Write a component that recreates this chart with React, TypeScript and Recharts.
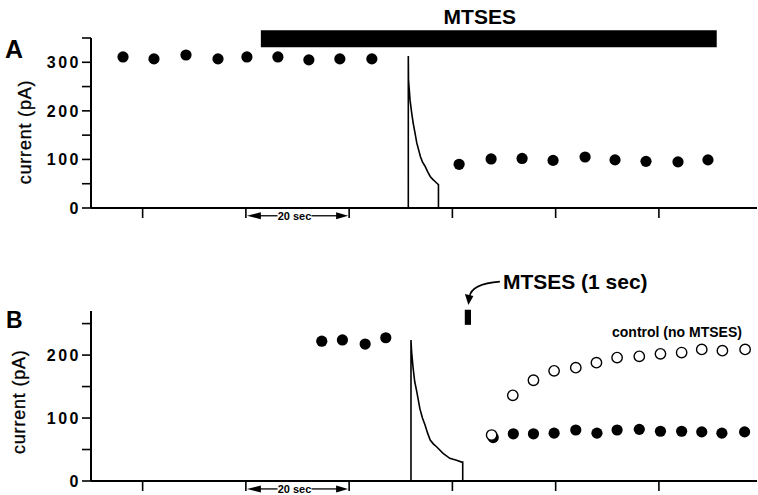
import { ComposedChart, Scatter, Line, XAxis, YAxis, ReferenceArea, ReferenceLine } from 'recharts';

const FONT = "'Liberation Sans', Arial, Helvetica, sans-serif";

// time axis (sec) shared by both panels
const xTicks = [10, 30, 50, 70, 90, 110];
const yTicksA = [0, 50, 100, 150, 200, 250, 300, 350];
const yTicksB = [0, 50, 100, 150, 200, 250];

// Panel A: before / after continuous MTSES
const preA_t = [6.2, 12.2, 18.4, 24.6, 30.2, 36.2, 42.2, 48.2, 54.4];
const preA_i = [311, 307, 315, 307, 311, 311, 305, 307, 307];
const postA_t = [71.3, 77.5, 83.5, 89.5, 95.7, 101.5, 107.5, 113.7, 119.5];
const postA_i = [90, 101, 102, 98, 105, 99, 96, 95, 99];
const traceA_t = [61.46, 61.46, 61.5, 61.8, 62.1, 62.4, 62.8, 63.1, 63.8, 64.2, 64.7, 65.2, 65.7, 66.2, 66.6, 67.1, 67.3, 67.3];
const traceA_i = [0, 313, 264, 222, 197, 175, 152, 134, 106, 95, 86, 75, 65, 59, 55, 50, 48, 0];

// Panel B: 1 sec MTSES pulse vs control
const preB_t = [44.7, 48.7, 53.1, 57.1];
const preB_i = [222, 224, 217.5, 227.5];
const postB_t = [77.9, 81.8, 85.7, 89.7, 93.9, 98.0, 101.9, 106.2, 110.3, 114.4, 118.3, 122.2, 126.6];
const postB_i = [69, 75, 75, 76, 81, 76, 81, 82, 79, 79, 78, 76, 78];
const ctrlB_t = [77.6, 81.7, 85.7, 89.7, 93.9, 97.9, 101.9, 106.2, 110.3, 114.4, 118.3, 122.3, 126.7];
const ctrlB_i = [73, 136, 160, 175, 180, 188, 196, 198, 202, 204, 209, 207, 209];
const traceB_t = [61.98, 61.98, 62.1, 62.4, 62.7, 63.1, 63.7, 64.2, 64.7, 65.2, 65.7, 66.3, 66.98, 68.2, 69.5, 70.8, 71.8, 72.0, 72.0];
const traceB_i = [0, 224, 205, 179, 158, 142, 115, 100, 89, 76, 65, 59, 54, 44, 36, 33, 30, 30, 0];

const zip = (ts: number[], is: number[]) => ts.map((t, k) => ({ t, i: is[k] }));

const FilledDot = (props: any) => <circle cx={props.cx} cy={props.cy} r={5.6} fill="#000" />;
const OpenDot = (props: any) => (
  <circle cx={props.cx} cy={props.cy} r={5.2} fill="#fff" stroke="#000" strokeWidth={1.4} />
);

// "|<-- 20 sec -->|" scale bar under the time axis
const ScaleBar = (props: any) => {
  const { x1, x2, y1 } = props;
  const mid = (x1 + x2) / 2 - 3;
  const y = y1;
  return (
    <g>
      <polygon points={`${x1 + 1},${y} ${x1 + 15},${y - 3.5} ${x1 + 15},${y + 3.5}`} fill="#000" />
      <line x1={x1 + 14} y1={y} x2={mid - 17} y2={y} stroke="#000" strokeWidth={1.3} />
      <text x={mid} y={y} textAnchor="middle" dominantBaseline="central" fontSize={11} fontWeight={700} fontFamily={FONT} fill="#000">
        20 sec
      </text>
      <line x1={mid + 17} y1={y} x2={x2 - 12} y2={y} stroke="#000" strokeWidth={1.3} />
      <polygon points={`${x2 - 1},${y} ${x2 - 13},${y - 3.5} ${x2 - 13},${y + 3.5}`} fill="#000" />
    </g>
  );
};

// curved arrow pointing at the MTSES pulse, with its caption
const PulseArrow = (props: any) => {
  const { x1, y1, x2, y2 } = props;
  return (
    <g>
      <path d={`M${x1},${y1} Q${x2 + 3},${y1 + 2} ${x2 + 1},${y2 - 8}`} fill="none" stroke="#000" strokeWidth={1.6} />
      <polygon points={`${x2},${y2} ${x2 - 3.5},${y2 - 11} ${x2 + 5},${y2 - 9}`} fill="#000" />
      <text x={x1 + 3} y={y1} dominantBaseline="central" fontSize={21} fontWeight={700} fontFamily={FONT} fill="#000">
        MTSES (1 sec)
      </text>
    </g>
  );
};

const yLabel = (dx: number, dy: number) => ({
  content: (p: any) => {
    const vb = p.viewBox;
    const cx = vb.x + vb.width / 2 + dx;
    const cy = vb.y + vb.height / 2 + dy;
    return (
      <text x={cx} y={cy} transform={`rotate(-90 ${cx} ${cy})`} textAnchor="middle" dominantBaseline="central"
        fontSize={18} fontFamily={FONT} letterSpacing={0.8} stroke="#000" strokeWidth={0.3} fill="#000">
        current (pA)
      </text>
    );
  },
});

const axisLine = { stroke: '#000', strokeWidth: 2 };
const tickLine = { stroke: '#000', strokeWidth: 1.6 };
const yTick = { fill: '#000', fontSize: 16, fontWeight: 700, fontFamily: FONT, letterSpacing: 2.5 };
const hundreds = (v: number) => (v % 100 === 0 ? String(v) : '');

export default function App() {
  return (
    <div style={{ position: 'absolute', left: 0, top: 0, width: 758, height: 495, background: '#fff' }}>
      <ComposedChart width={758} height={250} margin={{ top: 38, right: 1, bottom: 12, left: 31 }}>
        <XAxis type="number" dataKey="t" domain={[0, 129]} ticks={xTicks} tickSize={10} tickFormatter={() => ''}
          axisLine={axisLine} tickLine={tickLine} height={30} />
        <YAxis type="number" dataKey="i" domain={[0, 350]} ticks={yTicksA} interval={0} tickSize={9} tickMargin={1}
          tickFormatter={hundreds} tick={yTick} axisLine={axisLine} tickLine={tickLine} width={60}
          label={yLabel(-36.5, 9)} />
        <ReferenceArea x1={32.9} x2={121.2} y1={331} y2={366} fill="#000" fillOpacity={1} stroke="none" ifOverflow="visible"
          label={{
            content: (p: any) => (
              <text x={p.viewBox.x + p.viewBox.width / 2 - 9} y={p.viewBox.y - 6} textAnchor="middle"
                fontSize={21} fontWeight={700} fontFamily={FONT} fill="#000">MTSES</text>
            ),
          }} />
        <ReferenceLine segment={[{ x: 30, y: -16 }, { x: 50, y: -16 }]} ifOverflow="visible" shape={ScaleBar} />
        <Line data={zip(traceA_t, traceA_i)} dataKey="i" type="linear" dot={false} stroke="#000" strokeWidth={1.6} isAnimationActive={false} />
        <Scatter data={zip(preA_t, preA_i)} shape={FilledDot} isAnimationActive={false} />
        <Scatter data={zip(postA_t, postA_i)} shape={FilledDot} isAnimationActive={false} />
      </ComposedChart>
      <ComposedChart width={758} height={245} margin={{ top: 61, right: 1, bottom: 4, left: 31 }}>
        <XAxis type="number" dataKey="t" domain={[0, 129]} ticks={xTicks} tickSize={10} tickFormatter={() => ''}
          axisLine={axisLine} tickLine={tickLine} height={10} />
        <YAxis type="number" dataKey="i" domain={[0, 270]} ticks={yTicksB} interval={0} tickSize={9} tickMargin={1}
          tickFormatter={hundreds} tick={yTick} axisLine={axisLine} tickLine={tickLine} width={60}
          label={yLabel(-41.7, 5.7)} />
        <ReferenceArea x1={72.4} x2={73.6} y1={248} y2={272} fill="#000" fillOpacity={1} stroke="none" ifOverflow="visible" />
        <ReferenceLine segment={[{ x: 79.2, y: 316.6 }, { x: 73.1, y: 279.5 }]} ifOverflow="visible" shape={PulseArrow} />
        <ReferenceLine segment={[{ x: 30, y: -12.6 }, { x: 50, y: -12.6 }]} ifOverflow="visible" shape={ScaleBar} />
        <Line data={zip(traceB_t, traceB_i)} dataKey="i" type="linear" dot={false} stroke="#000" strokeWidth={1.6} isAnimationActive={false} />
        <Scatter data={zip(preB_t, preB_i)} shape={FilledDot} isAnimationActive={false} />
        <Scatter data={zip(postB_t, postB_i)} shape={FilledDot} isAnimationActive={false} />
        <Scatter data={zip(ctrlB_t, ctrlB_i)} shape={OpenDot} isAnimationActive={false} />
      </ComposedChart>
      <svg width={758} height={495} style={{ position: 'absolute', left: 0, top: 0, pointerEvents: 'none' }}>
        <text x={5} y={58} fontSize={25} fontWeight={700} fontFamily={FONT} fill="#000">A</text>
        <text x={6} y={328} fontSize={23} fontWeight={700} fontFamily={FONT} fill="#000">B</text>
        <text x={612} y={332} dominantBaseline="central" fontSize={14} fontWeight={700} fontFamily={FONT} fill="#000">
          control (no MTSES)
        </text>
      </svg>
    </div>
  );
}
